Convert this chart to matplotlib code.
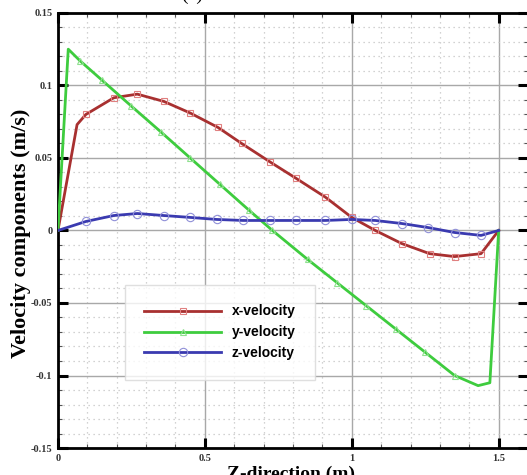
import matplotlib
matplotlib.use("Agg")
import matplotlib.pyplot as plt
import numpy as np
from matplotlib.ticker import MultipleLocator

# x-velocity
z_x = [0, 0.065, 0.095, 0.19, 0.27, 0.36, 0.45, 0.545, 0.625, 0.72, 0.81, 0.91,
       1.0, 1.08, 1.17, 1.265, 1.35, 1.44, 1.5]
u_x = [0, 0.073, 0.080, 0.0915, 0.094, 0.089, 0.081, 0.071, 0.060, 0.0475, 0.036,
       0.023, 0.009, 0.0, -0.009, -0.016, -0.018, -0.016, 0]

# y-velocity
z_y = [0, 0.035, 0.075, 0.15, 0.25, 0.35, 0.45, 0.55, 0.65, 0.73, 0.85, 0.95,
       1.05, 1.15, 1.25, 1.35, 1.43, 1.47, 1.5]
u_y = [0, 0.125, 0.117, 0.1036, 0.0857, 0.068, 0.050, 0.032, 0.014, 0.0, -0.020,
       -0.036, -0.052, -0.068, -0.084, -0.100, -0.107, -0.105, 0]

# z-velocity
z_z = [0, 0.095, 0.19, 0.27, 0.36, 0.45, 0.54, 0.63, 0.72, 0.81, 0.91, 1.0,
       1.08, 1.17, 1.26, 1.35, 1.44, 1.5]
u_z = [0, 0.0062, 0.0103, 0.0117, 0.0103, 0.009, 0.0076, 0.0069, 0.0069, 0.0069,
       0.0069, 0.0076, 0.0069, 0.0048, 0.002, -0.0014, -0.0034, 0]

y_ticks = [-0.15, -0.1, -0.05, 0, 0.05, 0.1, 0.15]
y_labels = ["-0.15", "-0.1", "-0.05", "0", "0.05", "0.1", "0.15"]
x_ticks = [0, 0.5, 1, 1.5]
x_labels = ["0", "0.5", "1", "1.5"]

fig = plt.figure(figsize=(5.27, 4.75), dpi=100)
ax = fig.add_axes([0.110, 0.0568, 0.892, 0.916])

red = "#a83030"
green = "#3ecc3e"
blue = "#3a3ab0"

ax.plot(z_x, u_x, color=red, lw=2.0, marker="s", ms=5, mfc="none", mec="#e08080",
        mew=0.8, markevery=list(range(2, len(z_x) - 1)), label="x-velocity", zorder=5)
ax.plot(z_y, u_y, color=green, lw=2.0, marker="^", ms=5, mfc="none", mec="#90e090",
        mew=0.8, markevery=list(range(2, len(z_y) - 3)), label="y-velocity", zorder=5)
ax.plot(z_z, u_z, color=blue, lw=2.0, marker="o", ms=6, mfc="none", mec="#9090d8",
        mew=0.8, markevery=list(range(1, len(z_z) - 1)), label="z-velocity", zorder=5)

ax.set_xlim(0, 1.6)
ax.set_ylim(-0.15, 0.15)
ax.set_xticks(x_ticks)
ax.set_xticklabels(x_labels)
ax.set_yticks(y_ticks)
ax.set_yticklabels(y_labels)
ax.xaxis.set_minor_locator(MultipleLocator(0.1))
ax.yaxis.set_minor_locator(MultipleLocator(0.01))

ax.grid(which="major", color="#a8a8a8", lw=1.0, ls="-")
ax.grid(which="minor", color="#c4c4c4", lw=0.9, ls=(0, (1, 3)))
ax.set_axisbelow(True)

ax.tick_params(which="major", direction="in", length=7, width=2.2, top=True, right=True,
               labelsize=7.5, pad=4, labelcolor="#333333")
ax.tick_params(which="minor", direction="in", length=3, width=0.8, top=True, right=True,
               color="#555555")
for lab in ax.get_xticklabels() + ax.get_yticklabels():
    lab.set_fontfamily("Liberation Serif")
    lab.set_fontweight("bold")

for s in ax.spines.values():
    s.set_linewidth(2.0)

leg = ax.legend(loc="upper left", bbox_to_anchor=(0.1426, 0.3747), borderaxespad=0,
                prop={"family": "Liberation Sans", "weight": "bold", "size": 10},
                frameon=True, fancybox=False, borderpad=1.4, labelspacing=0.5,
                handlelength=5.5, handletextpad=0.8, markerscale=1.0)
leg.get_frame().set_edgecolor("#d8d8d8")
leg.get_frame().set_linewidth(1.0)
leg.set_zorder(10)

fig.text(21 / 527, 1 - 233 / 475, "Velocity components (m/s)", rotation=90,
         ha="center", va="center", fontfamily="Liberation Serif",
         fontweight="bold", fontsize=16)
fig.text(291 / 527, 1 - 466 / 475, "Z-direction (m)", ha="center", va="top",
         fontfamily="Liberation Serif", fontweight="bold", fontsize=14)
fig.text(192 / 527, 1 - 4 / 475, "(c)", ha="center", va="bottom",
         fontfamily="Liberation Serif", fontsize=14)

fig.savefig("out.png", dpi=100)
